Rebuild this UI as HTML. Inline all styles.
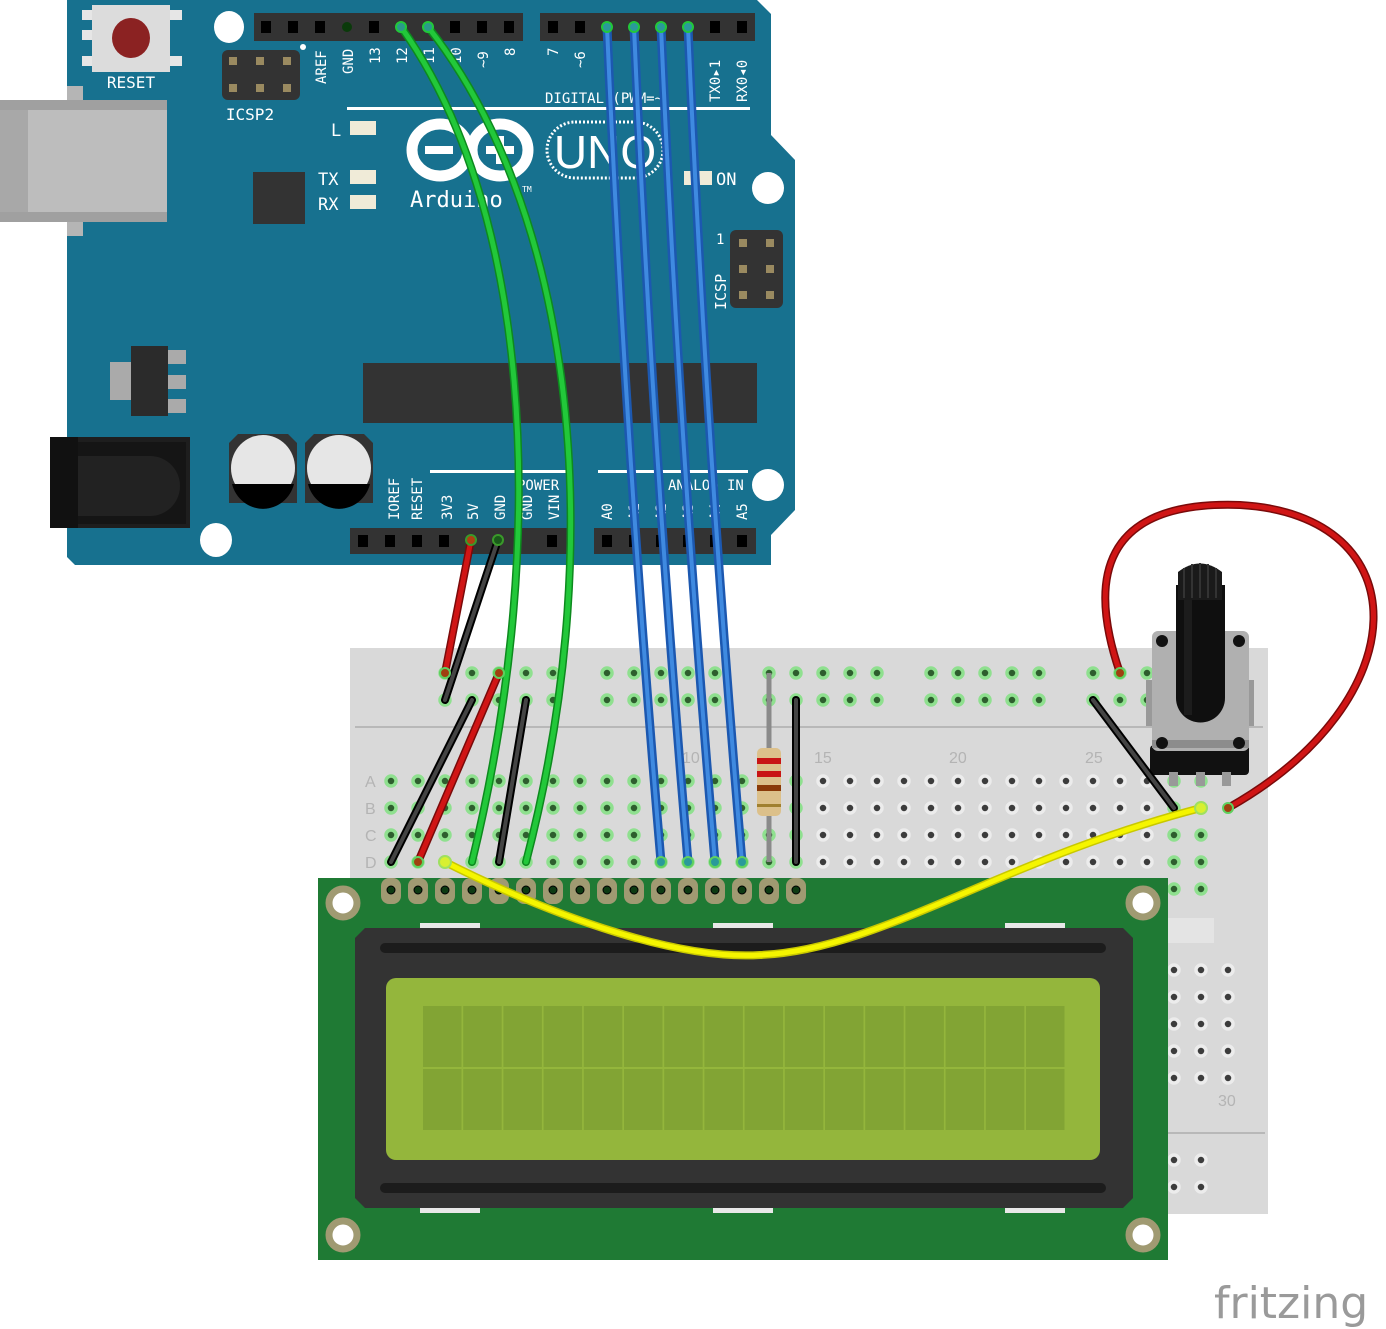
<!DOCTYPE html>
<html><head><meta charset="utf-8"><style>
html,body{margin:0;padding:0;background:#fff;}
svg{display:block;font-family:"DejaVu Sans Mono","Liberation Mono",monospace;}
</style></head><body>
<svg width="1386" height="1329" viewBox="0 0 1386 1329" xmlns="http://www.w3.org/2000/svg">
<polygon points="67,0 757,0 771,14 771,135 795,160 795,510 771,535 771,565 75,565 67,557" fill="#17718f"/>
<rect x="67" y="86" width="16" height="150" fill="#b5b5b5"/>
<rect x="0" y="100" width="167" height="122" fill="#bdbdbd"/>
<rect x="0" y="100" width="28" height="122" fill="#a8a8a8"/>
<rect x="0" y="100" width="167" height="10" fill="#a0a0a0"/>
<rect x="0" y="212" width="167" height="10" fill="#a0a0a0"/>
<rect x="82" y="10" width="14" height="10" fill="#e6e6e6"/><rect x="168" y="10" width="14" height="10" fill="#e6e6e6"/>
<rect x="82" y="30" width="14" height="10" fill="#e6e6e6"/><rect x="168" y="56" width="14" height="10" fill="#e6e6e6"/>
<rect x="82" y="56" width="14" height="10" fill="#e6e6e6"/>
<rect x="92" y="5" width="78" height="67" fill="#dcdcdc"/>
<ellipse cx="131" cy="38" rx="19" ry="20" fill="#8b2222"/>
<text x="131" y="88" font-size="16" fill="#fff" text-anchor="middle">RESET</text>
<rect x="222" y="50" width="78" height="50" rx="6" fill="#333"/>
<g fill="#9a8a60"><rect x="229" y="57" width="8" height="8"/><rect x="256" y="57" width="8" height="8"/><rect x="283" y="57" width="8" height="8"/><rect x="229" y="84" width="8" height="8"/><rect x="256" y="84" width="8" height="8"/><rect x="283" y="84" width="8" height="8"/></g>
<circle cx="303" cy="47" r="3" fill="#fff"/>
<text x="250" y="120" font-size="16" fill="#fff" text-anchor="middle">ICSP2</text>
<ellipse cx="229" cy="27" rx="15" ry="16" fill="#fff"/>
<ellipse cx="768" cy="188" rx="16" ry="16" fill="#fff"/>
<ellipse cx="768" cy="485" rx="16" ry="16" fill="#fff"/>
<ellipse cx="216" cy="540" rx="16" ry="17" fill="#fff"/>
<rect x="254" y="13" width="269" height="28" fill="#333"/>
<rect x="540" y="13" width="215" height="28" fill="#333"/>
<g fill="#000">
<rect x="261" y="21" width="10" height="12"/><rect x="288" y="21" width="10" height="12"/><rect x="315" y="21" width="10" height="12"/><rect x="369" y="21" width="10" height="12"/><rect x="450" y="21" width="10" height="12"/><rect x="477" y="21" width="10" height="12"/><rect x="504" y="21" width="10" height="12"/>
<rect x="548" y="21" width="10" height="12"/><rect x="575" y="21" width="10" height="12"/><rect x="710" y="21" width="10" height="12"/><rect x="737" y="21" width="10" height="12"/>
</g>
<circle cx="347" cy="27" r="5" fill="#0a3a0a"/>
<g fill="#fff" font-size="14">
<text transform="translate(326,84) rotate(-90)">AREF</text>
<text transform="translate(353,74) rotate(-90)">GND</text>
<text transform="translate(380,64) rotate(-90)">13</text>
<text transform="translate(407,64) rotate(-90)">12</text>
<text transform="translate(434,64) rotate(-90)">11</text>
<text transform="translate(461,64) rotate(-90)">10</text>
<text transform="translate(488,68) rotate(-90)">~9</text>
<text transform="translate(515,56) rotate(-90)">8</text>
<text transform="translate(558,56) rotate(-90)">7</text>
<text transform="translate(585,68) rotate(-90)">~6</text>
<text transform="translate(720,102) rotate(-90)">TX0▸1</text>
<text transform="translate(747,102) rotate(-90)">RX0◂0</text>
<text x="545" y="103" font-size="14">DIGITAL (PWM=~)</text>
</g>
<rect x="347" y="107" width="403" height="3" fill="#fff"/>
<g fill="#fff" font-size="17"><text x="331" y="136">L</text><text x="318" y="185">TX</text><text x="318" y="210">RX</text><text x="716" y="185">ON</text></g>
<g fill="#f0ebd8"><rect x="350" y="121" width="26" height="14"/><rect x="350" y="170" width="26" height="14"/><rect x="350" y="195" width="26" height="14"/><rect x="684" y="171" width="28" height="14"/></g>
<rect x="253" y="172" width="52" height="52" fill="#333"/>
<g fill="none" stroke="#fff" stroke-width="11"><ellipse cx="440" cy="150" rx="28" ry="26"/><ellipse cx="500" cy="150" rx="28" ry="26"/></g>
<rect x="425" y="146" width="28" height="8" fill="#fff"/><rect x="486" y="146" width="28" height="8" fill="#fff"/><rect x="496" y="136" width="8" height="28" fill="#fff"/>
<rect x="547" y="122" width="116" height="56" rx="28" fill="none" stroke="#fff" stroke-width="3" stroke-dasharray="2,2"/>
<text x="605" y="168" font-size="46" fill="#fff" text-anchor="middle" font-family="Liberation Sans,sans-serif">UNO</text>
<text x="410" y="207" font-size="22" fill="#fff">Arduino</text><text x="522" y="192" font-size="8" fill="#fff">TM</text>
<rect x="730" y="230" width="53" height="78" rx="6" fill="#333"/>
<g fill="#9a8a60"><rect x="739" y="239" width="8" height="8"/><rect x="766" y="239" width="8" height="8"/><rect x="739" y="265" width="8" height="8"/><rect x="766" y="265" width="8" height="8"/><rect x="739" y="291" width="8" height="8"/><rect x="766" y="291" width="8" height="8"/></g>
<text x="716" y="244" font-size="14" fill="#fff">1</text>
<text transform="translate(726,310) rotate(-90)" font-size="15" fill="#fff">ICSP</text>
<rect x="363" y="363" width="394" height="60" fill="#333"/>
<rect x="110" y="362" width="24" height="38" fill="#aaa"/>
<rect x="160" y="350" width="26" height="14" fill="#aaa"/><rect x="160" y="375" width="26" height="14" fill="#aaa"/><rect x="160" y="399" width="26" height="14" fill="#aaa"/>
<rect x="131" y="346" width="37" height="70" fill="#2b2b2b"/>
<rect x="50" y="437" width="140" height="91" fill="#1e1e1e"/>
<rect x="78" y="442" width="108" height="82" fill="#151515"/>
<path d="M78,456 H150 A30,30 0 0 1 150,516 H78Z" fill="#222"/>
<rect x="50" y="437" width="28" height="91" fill="#111"/>
<g>
<path d="M238,434 H288 L297,443 V503 H229 V443Z" fill="#333"/>
<ellipse cx="263" cy="468" rx="32" ry="33" fill="#e6e6e6"/>
<path d="M232,484 H294 A32,33 0 0 1 232,484Z" fill="#000"/>
<path d="M314,434 H364 L373,443 V503 H305 V443Z" fill="#333"/>
<ellipse cx="339" cy="468" rx="32" ry="33" fill="#e6e6e6"/>
<path d="M308,484 H370 A32,33 0 0 1 308,484Z" fill="#000"/>
</g>
<rect x="430" y="470" width="140" height="3" fill="#fff"/><rect x="598" y="470" width="150" height="3" fill="#fff"/>
<g fill="#fff" font-size="14">
<text x="517" y="490">POWER</text><text x="668" y="490">ANALOG IN</text>
<text transform="translate(399,520) rotate(-90)">IOREF</text>
<text transform="translate(422,520) rotate(-90)">RESET</text>
<text transform="translate(452,520) rotate(-90)">3V3</text>
<text transform="translate(478,520) rotate(-90)">5V</text>
<text transform="translate(505,520) rotate(-90)">GND</text>
<text transform="translate(532,520) rotate(-90)">GND</text>
<text transform="translate(559,520) rotate(-90)">VIN</text>
<text transform="translate(612,520) rotate(-90)">A0</text>
<text transform="translate(639,520) rotate(-90)">A1</text>
<text transform="translate(666,520) rotate(-90)">A2</text>
<text transform="translate(693,520) rotate(-90)">A3</text>
<text transform="translate(720,520) rotate(-90)">A4</text>
<text transform="translate(747,520) rotate(-90)">A5</text>
</g>
<rect x="350" y="528" width="218" height="26" fill="#333"/>
<rect x="594" y="528" width="162" height="26" fill="#333"/>
<g fill="#000">
<rect x="358" y="535" width="10" height="12"/><rect x="385" y="535" width="10" height="12"/><rect x="412" y="535" width="10" height="12"/><rect x="439" y="535" width="10" height="12"/><rect x="547" y="535" width="10" height="12"/>
<rect x="602" y="535" width="10" height="12"/><rect x="629" y="535" width="10" height="12"/><rect x="656" y="535" width="10" height="12"/><rect x="683" y="535" width="10" height="12"/><rect x="710" y="535" width="10" height="12"/><rect x="737" y="535" width="10" height="12"/>
</g>

<rect x="350" y="648" width="918" height="566" fill="#d9d9d9"/>
<line x1="355" y1="727" x2="1263" y2="727" stroke="#b8b8b8" stroke-width="2"/>
<line x1="1168" y1="1133" x2="1265" y2="1133" stroke="#b8b8b8" stroke-width="2"/>
<rect x="1168" y="918" width="46" height="25" fill="#e4e4e4"/>
<g fill="#b4b4b4" font-size="16" font-family="Liberation Sans,sans-serif">
<text x="365" y="787">A</text><text x="365" y="814">B</text><text x="365" y="841">C</text><text x="365" y="868">D</text>
<text x="682" y="763">10</text><text x="814" y="763">15</text><text x="949" y="763">20</text><text x="1085" y="763">25</text><text x="1218" y="1106">30</text>
</g>
<g fill="#2e5e2e" stroke="#8fe08f" stroke-width="3.5">
<circle cx="445" cy="673" r="5"/><circle cx="472" cy="673" r="5"/><circle cx="499" cy="673" r="5"/><circle cx="526" cy="673" r="5"/><circle cx="553" cy="673" r="5"/>
<circle cx="607" cy="673" r="5"/><circle cx="634" cy="673" r="5"/><circle cx="661" cy="673" r="5"/><circle cx="688" cy="673" r="5"/><circle cx="715" cy="673" r="5"/>
<circle cx="769" cy="673" r="5"/><circle cx="796" cy="673" r="5"/><circle cx="823" cy="673" r="5"/><circle cx="850" cy="673" r="5"/><circle cx="877" cy="673" r="5"/>
<circle cx="931" cy="673" r="5"/><circle cx="958" cy="673" r="5"/><circle cx="985" cy="673" r="5"/><circle cx="1012" cy="673" r="5"/><circle cx="1039" cy="673" r="5"/>
<circle cx="1093" cy="673" r="5"/><circle cx="1120" cy="673" r="5"/><circle cx="1147" cy="673" r="5"/>
<circle cx="445" cy="700" r="5"/><circle cx="472" cy="700" r="5"/><circle cx="499" cy="700" r="5"/><circle cx="526" cy="700" r="5"/><circle cx="553" cy="700" r="5"/>
<circle cx="607" cy="700" r="5"/><circle cx="634" cy="700" r="5"/><circle cx="661" cy="700" r="5"/><circle cx="688" cy="700" r="5"/><circle cx="715" cy="700" r="5"/>
<circle cx="769" cy="700" r="5"/><circle cx="796" cy="700" r="5"/><circle cx="823" cy="700" r="5"/><circle cx="850" cy="700" r="5"/><circle cx="877" cy="700" r="5"/>
<circle cx="931" cy="700" r="5"/><circle cx="958" cy="700" r="5"/><circle cx="985" cy="700" r="5"/><circle cx="1012" cy="700" r="5"/><circle cx="1039" cy="700" r="5"/>
<circle cx="1093" cy="700" r="5"/><circle cx="1120" cy="700" r="5"/><circle cx="1147" cy="700" r="5"/>
</g>
<g id="main"></g>
<script>
(function(){
var ns="http://www.w3.org/2000/svg",g=document.getElementById("main");
function c(x,y,f,s){var e=document.createElementNS(ns,"circle");e.setAttribute("cx",x);e.setAttribute("cy",y);e.setAttribute("r",5);e.setAttribute("fill",f);e.setAttribute("stroke",s);e.setAttribute("stroke-width",3.5);g.appendChild(e);}
var rows=[781,808,835,862,889];
for(var i=0;i<31;i++){var x=391+27*i;var green=(x<=796)||(x>=1174);
for(var r=0;r<5;r++){c(x,rows[r],green?"#2e5e2e":"#3c3c3c",green?"#8fe08f":"#ececec");}}
var xs=[1174,1201,1228];
[970,997,1024,1051,1078].forEach(function(y){xs.forEach(function(x){c(x,y,"#3c3c3c","#ececec");});});
[1160,1187].forEach(function(y){[1174,1201].forEach(function(x){c(x,y,"#3c3c3c","#ececec");});});
})();
</script>

<line x1="769" y1="673" x2="769" y2="862" stroke="#8a8a8a" stroke-width="5"/>
<rect x="757" y="748" width="24" height="68" rx="5" fill="#dcc08a"/>
<rect x="757" y="758" width="24" height="6" fill="#c81414"/><rect x="757" y="771" width="24" height="6" fill="#c81414"/><rect x="757" y="785" width="24" height="6" fill="#8a3a08"/><rect x="757" y="804" width="24" height="3" fill="#a08030"/>

<rect x="318" y="878" width="850" height="382" fill="#1f7a34"/>
<g fill="#a09a72">
<rect x="381" y="878" width="20" height="26" rx="8"/><rect x="408" y="878" width="20" height="26" rx="8"/><rect x="435" y="878" width="20" height="26" rx="8"/><rect x="462" y="878" width="20" height="26" rx="8"/><rect x="489" y="878" width="20" height="26" rx="8"/><rect x="516" y="878" width="20" height="26" rx="8"/><rect x="543" y="878" width="20" height="26" rx="8"/><rect x="570" y="878" width="20" height="26" rx="8"/><rect x="597" y="878" width="20" height="26" rx="8"/><rect x="624" y="878" width="20" height="26" rx="8"/><rect x="651" y="878" width="20" height="26" rx="8"/><rect x="678" y="878" width="20" height="26" rx="8"/><rect x="705" y="878" width="20" height="26" rx="8"/><rect x="732" y="878" width="20" height="26" rx="8"/><rect x="759" y="878" width="20" height="26" rx="8"/><rect x="786" y="878" width="20" height="26" rx="8"/>
</g>
<g fill="#0d3a12" stroke="#000" stroke-width="1">
<circle cx="391" cy="890" r="4"/><circle cx="418" cy="890" r="4"/><circle cx="445" cy="890" r="4"/><circle cx="472" cy="890" r="4"/><circle cx="499" cy="890" r="4"/><circle cx="526" cy="890" r="4"/><circle cx="553" cy="890" r="4"/><circle cx="580" cy="890" r="4"/><circle cx="607" cy="890" r="4"/><circle cx="634" cy="890" r="4"/><circle cx="661" cy="890" r="4"/><circle cx="688" cy="890" r="4"/><circle cx="715" cy="890" r="4"/><circle cx="742" cy="890" r="4"/><circle cx="769" cy="890" r="4"/><circle cx="796" cy="890" r="4"/>
</g>
<g fill="#fff" stroke="#a09a72" stroke-width="7">
<circle cx="343" cy="903" r="14"/><circle cx="1143" cy="903" r="14"/><circle cx="343" cy="1235" r="14"/><circle cx="1143" cy="1235" r="14"/>
</g>
<g fill="#e8e8e8"><rect x="420" y="923" width="60" height="5"/><rect x="713" y="923" width="60" height="5"/><rect x="1005" y="923" width="60" height="5"/><rect x="420" y="1208" width="60" height="5"/><rect x="713" y="1208" width="60" height="5"/><rect x="1005" y="1208" width="60" height="5"/></g>
<polygon points="365,928 1123,928 1133,938 1133,1198 1123,1208 365,1208 355,1198 355,938" fill="#333"/>
<rect x="380" y="943" width="726" height="10" rx="5" fill="#1c1c1c"/>
<rect x="380" y="1183" width="726" height="10" rx="5" fill="#1c1c1c"/>
<rect x="386" y="978" width="714" height="182" rx="10" fill="#94b63c"/>
<g id="grid"></g>
<script>
(function(){var ns="http://www.w3.org/2000/svg",g=document.getElementById("grid");
for(var r=0;r<2;r++)for(var i=0;i<16;i++){var e=document.createElementNS(ns,"rect");e.setAttribute("x",423+40.2*i);e.setAttribute("y",1006+63*r);e.setAttribute("width",38.5);e.setAttribute("height",61);e.setAttribute("fill","#82a434");g.appendChild(e);}})();
</script>

<rect x="1146" y="680" width="8" height="46" fill="#999"/><rect x="1246" y="680" width="8" height="46" fill="#999"/>
<rect x="1150" y="745" width="99" height="30" rx="4" fill="#111"/>
<rect x="1169" y="772" width="9" height="14" fill="#999"/><rect x="1196" y="772" width="9" height="14" fill="#999"/><rect x="1222" y="772" width="9" height="14" fill="#999"/>
<rect x="1152" y="631" width="97" height="120" rx="6" fill="#b0b0b0"/>
<rect x="1152" y="740" width="97" height="8" fill="#8c8c8c"/>
<g fill="#111"><circle cx="1162" cy="641" r="6"/><circle cx="1239" cy="641" r="6"/><circle cx="1162" cy="743" r="6"/><circle cx="1239" cy="743" r="6"/></g>
<path d="M1176,585 H1225 V698 A24.5,24.5 0 0 1 1176,698Z" fill="#0f0f0f"/>
<rect x="1184" y="585" width="8" height="130" fill="#1c1c1c"/>
<path d="M1178,572 Q1200,555 1222,572 V600 H1178Z" fill="#1a1a1a"/>
<g stroke="#333" stroke-width="2"><line x1="1184" y1="568" x2="1184" y2="598"/><line x1="1192" y1="564" x2="1192" y2="598"/><line x1="1200" y1="563" x2="1200" y2="598"/><line x1="1208" y1="564" x2="1208" y2="598"/><line x1="1216" y1="568" x2="1216" y2="598"/></g>

<g fill="none" stroke-linecap="round">
<path d="M401,27 C525,200 555,520 472,862" stroke="#0d8a1e" stroke-width="8"/>
<path d="M401,27 C525,200 555,520 472,862" stroke="#22c83a" stroke-width="5"/>
<path d="M428,27 C565,200 615,520 526,862" stroke="#0d8a1e" stroke-width="8"/>
<path d="M428,27 C565,200 615,520 526,862" stroke="#22c83a" stroke-width="5"/>
<g stroke="#1c58b0" stroke-width="9">
<path d="M607,27 Q625,440 661,862"/><path d="M634,27 Q652,440 688,862"/><path d="M661,27 Q679,440 715,862"/><path d="M688,27 Q706,440 742,862"/>
</g>
<g stroke="#3f8ae0" stroke-width="4">
<path d="M607,27 Q625,440 661,862"/><path d="M634,27 Q652,440 688,862"/><path d="M661,27 Q679,440 715,862"/><path d="M688,27 Q706,440 742,862"/>
</g>
<line x1="471" y1="540" x2="445" y2="673" stroke="#7a0a0a" stroke-width="8"/><line x1="471" y1="540" x2="445" y2="673" stroke="#d01515" stroke-width="5"/>
<line x1="498" y1="540" x2="445" y2="700" stroke="#000" stroke-width="8"/><line x1="498" y1="540" x2="445" y2="700" stroke="#444" stroke-width="4"/>
<line x1="472" y1="700" x2="391" y2="862" stroke="#000" stroke-width="8"/><line x1="472" y1="700" x2="391" y2="862" stroke="#444" stroke-width="4"/>
<line x1="499" y1="673" x2="418" y2="862" stroke="#7a0a0a" stroke-width="8"/><line x1="499" y1="673" x2="418" y2="862" stroke="#d01515" stroke-width="5"/>
<line x1="526" y1="700" x2="499" y2="862" stroke="#000" stroke-width="8"/><line x1="526" y1="700" x2="499" y2="862" stroke="#444" stroke-width="4"/>
<line x1="796" y1="700" x2="796" y2="862" stroke="#000" stroke-width="8"/><line x1="796" y1="700" x2="796" y2="862" stroke="#444" stroke-width="4"/>
<line x1="1093" y1="700" x2="1174" y2="808" stroke="#000" stroke-width="8"/><line x1="1093" y1="700" x2="1174" y2="808" stroke="#444" stroke-width="4"/>
<path d="M445,862 C560,920 680,960 760,955 C880,950 1000,860 1201,808" stroke="#c8c800" stroke-width="8"/>
<path d="M445,862 C560,920 680,960 760,955 C880,950 1000,860 1201,808" stroke="#f5f500" stroke-width="5"/>
<path d="M1120,673 C1088,580 1100,500 1240,505 C1420,515 1420,700 1228,808" stroke="#7a0a0a" stroke-width="8"/>
<path d="M1120,673 C1088,580 1100,500 1240,505 C1420,515 1420,700 1228,808" stroke="#d01515" stroke-width="5"/>
</g>
<g stroke-width="2">
<circle cx="401" cy="27" r="5" fill="#2a9a8a" stroke="#22c83a"/><circle cx="428" cy="27" r="5" fill="#2a9a8a" stroke="#22c83a"/>
<circle cx="607" cy="27" r="5" fill="#2a9a9a" stroke="#22c83a"/><circle cx="634" cy="27" r="5" fill="#2a9a9a" stroke="#22c83a"/><circle cx="661" cy="27" r="5" fill="#2a9a9a" stroke="#22c83a"/><circle cx="688" cy="27" r="5" fill="#2a9a9a" stroke="#22c83a"/>
<circle cx="661" cy="862" r="5" fill="#2a9a9a" stroke="#5fd05f"/><circle cx="688" cy="862" r="5" fill="#2a9a9a" stroke="#5fd05f"/><circle cx="715" cy="862" r="5" fill="#2a9a9a" stroke="#5fd05f"/><circle cx="742" cy="862" r="5" fill="#2a9a9a" stroke="#5fd05f"/>
<circle cx="471" cy="540" r="5" fill="#b04010" stroke="#3a9a2a"/><circle cx="498" cy="540" r="5" fill="#1a5a1a" stroke="#3a9a2a"/>
<circle cx="445" cy="673" r="5" fill="#a04010" stroke="#5fd05f"/><circle cx="499" cy="673" r="5" fill="#a04010" stroke="#5fd05f"/><circle cx="418" cy="862" r="5" fill="#a04010" stroke="#5fd05f"/>
<circle cx="1120" cy="673" r="5" fill="#a04010" stroke="#5fd05f"/><circle cx="1228" cy="808" r="5" fill="#a04010" stroke="#5fd05f"/>
<circle cx="445" cy="862" r="6" fill="#d8f030" stroke="#9fe060"/><circle cx="1201" cy="808" r="6" fill="#d8f030" stroke="#9fe060"/>
</g>

<text x="1214" y="1318" font-size="44" fill="#9a9a9a" font-family="DejaVu Sans,Liberation Sans,sans-serif">fritzing</text>
</svg>
</body></html>
